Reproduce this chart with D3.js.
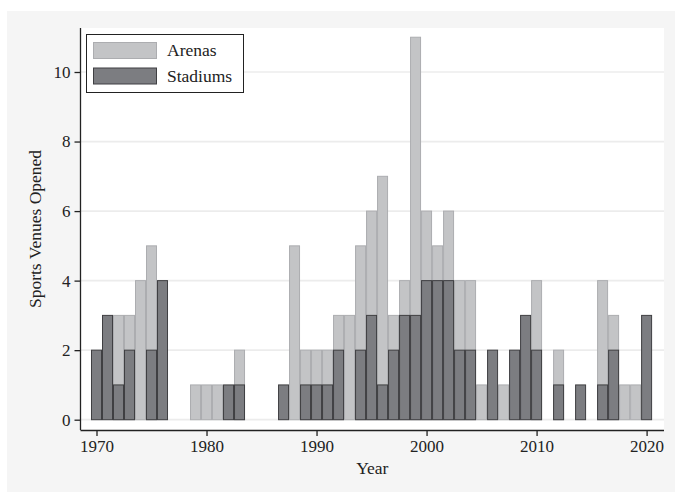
<!DOCTYPE html>
<html>
<head>
<meta charset="utf-8">
<script src="https://cdn.jsdelivr.net/npm/d3@7/dist/d3.min.js"></script>
<style>
  html, body { margin: 0; padding: 0; background: #ffffff; }
  svg { display: block; }
  text { font-family: "Liberation Serif", "DejaVu Serif", serif; fill: #222; }
</style>
</head>
<body>
<svg id="chart" width="675" height="492"></svg>
<script>
// ---- Data ----
const years = d3.range(1970, 2021);
const arenas = [
  0, 0, 3, 3, 4, 5, 0, 0, 0, 1,   // 1970-1979
  1, 1, 0, 2, 0, 0, 0, 0, 5, 2,   // 1980-1989
  2, 2, 3, 3, 5, 6, 7, 3, 4, 11,  // 1990-1999
  6, 5, 6, 4, 4, 1, 0, 1, 0, 0,   // 2000-2009
  4, 0, 2, 0, 0, 0, 4, 3, 1, 1,   // 2010-2019
  0                               // 2020
];
const stadiums = [
  2, 3, 1, 2, 0, 2, 4, 0, 0, 0,   // 1970-1979
  0, 0, 1, 1, 0, 0, 0, 1, 0, 1,   // 1980-1989
  1, 1, 2, 0, 2, 3, 1, 2, 3, 3,   // 1990-1999
  4, 4, 4, 2, 2, 0, 2, 0, 2, 3,   // 2000-2009
  2, 0, 1, 0, 1, 0, 1, 2, 0, 0,   // 2010-2019
  3                               // 2020
];
const xTicks = [1970, 1980, 1990, 2000, 2010, 2020];
const yTicks = [0, 2, 4, 6, 8, 10];
const seriesNames = ["Arenas", "Stadiums"];

// ---- Layout ----
const svg = d3.select("#chart");
const W = 675, H = 492;
const plotL = 80.5, plotR = 664, plotT = 28, plotB = 430;

const x = d3.scaleLinear().domain([1970, 2020]).range([96.5, 646.6]);
const y = d3.scaleLinear().domain([0, 10]).range([419.7, 72]);

const colors = {
  Arenas:   { fill: "#c3c4c6", stroke: "#acadb0" },
  Stadiums: { fill: "#7c7d81", stroke: "#3f3f42" }
};

// outer gray background
svg.append("rect").attr("x", 7).attr("y", 11).attr("width", W - 7).attr("height", H - 11)
  .attr("fill", "#f5f5f5");
// plot region
svg.append("rect").attr("x", plotL).attr("y", plotT).attr("width", plotR - plotL).attr("height", plotB - plotT)
  .attr("fill", "#ffffff");

// gridlines
svg.append("g").selectAll("line").data(yTicks).join("line")
  .attr("x1", plotL).attr("x2", plotR)
  .attr("y1", d => y(d)).attr("y2", d => y(d))
  .attr("stroke", "#ececec").attr("stroke-width", 1.7);

const data = years.map((yr, i) => ({ year: yr, arenas: arenas[i], stadiums: stadiums[i] }));

// arenas bars (behind)
svg.append("g").selectAll("rect").data(data.filter(d => d.arenas > 0)).join("rect")
  .attr("x", d => x(d.year - 0.5) + 0.5)
  .attr("width", d => x(d.year + 0.5) - x(d.year - 0.5) - 1)
  .attr("y", d => y(d.arenas))
  .attr("height", d => y(0) - y(d.arenas))
  .attr("fill", colors.Arenas.fill)
  .attr("stroke", colors.Arenas.stroke).attr("stroke-width", 1);

// stadium bars (front)
svg.append("g").selectAll("rect").data(data.filter(d => d.stadiums > 0)).join("rect")
  .attr("x", d => x(d.year - 0.5) + 0.5)
  .attr("width", d => x(d.year + 0.5) - x(d.year - 0.5) - 1)
  .attr("y", d => y(d.stadiums))
  .attr("height", d => y(0) - y(d.stadiums))
  .attr("fill", colors.Stadiums.fill)
  .attr("stroke", colors.Stadiums.stroke).attr("stroke-width", 1);

// axes
const xAxis = d3.axisBottom(x).tickValues(xTicks).tickFormat(d3.format("d")).tickSize(6).tickPadding(4);
const gx = svg.append("g").attr("transform", `translate(0,${plotB})`).call(xAxis);
gx.select(".domain").attr("d", `M${plotL},0.5H${plotR}`).attr("stroke", "#222").attr("stroke-width", 1.3);
gx.selectAll(".tick line").attr("stroke", "#222").attr("stroke-width", 1.3);
gx.selectAll(".tick text").attr("font-size", "17px").attr("fill", "#333")
  .style("font-family", '"Liberation Serif", serif');

const yAxis = d3.axisLeft(y).tickValues(yTicks).tickSize(6).tickPadding(4);
const gy = svg.append("g").attr("transform", `translate(${plotL},0)`).call(yAxis);
gy.select(".domain").attr("d", `M0,${plotT}V${plotB}`).attr("stroke", "#222").attr("stroke-width", 1.3);
gy.selectAll(".tick line").attr("stroke", "#222").attr("stroke-width", 1.3);
gy.selectAll(".tick text").attr("font-size", "17px").attr("fill", "#333")
  .style("font-family", '"Liberation Serif", serif');

// axis titles
svg.append("text").attr("x", (plotL + plotR) / 2).attr("y", 474)
  .attr("text-anchor", "middle").attr("font-size", "17.5px").attr("fill", "#333").text("Year");
svg.append("text").attr("transform", `translate(41,${(plotT + plotB) / 2}) rotate(-90)`)
  .attr("text-anchor", "middle").attr("font-size", "17.5px").attr("fill", "#333").text("Sports Venues Opened");

// legend
const lg = svg.append("g");
lg.append("rect").attr("x", 86.5).attr("y", 34.5).attr("width", 157).attr("height", 58)
  .attr("fill", "#ffffff").attr("stroke", "#222").attr("stroke-width", 1);
seriesNames.forEach((name, i) => {
  const yy = 42.5 + i * 25.5;
  lg.append("rect").attr("x", 93.5).attr("y", yy).attr("width", 63).attr("height", 16)
    .attr("fill", colors[name].fill).attr("stroke", colors[name].stroke).attr("stroke-width", 1);
  lg.append("text").attr("x", 167).attr("y", yy + 13.5).attr("font-size", "17.5px").attr("fill", "#333").text(name);
});
</script>
</body>
</html>
